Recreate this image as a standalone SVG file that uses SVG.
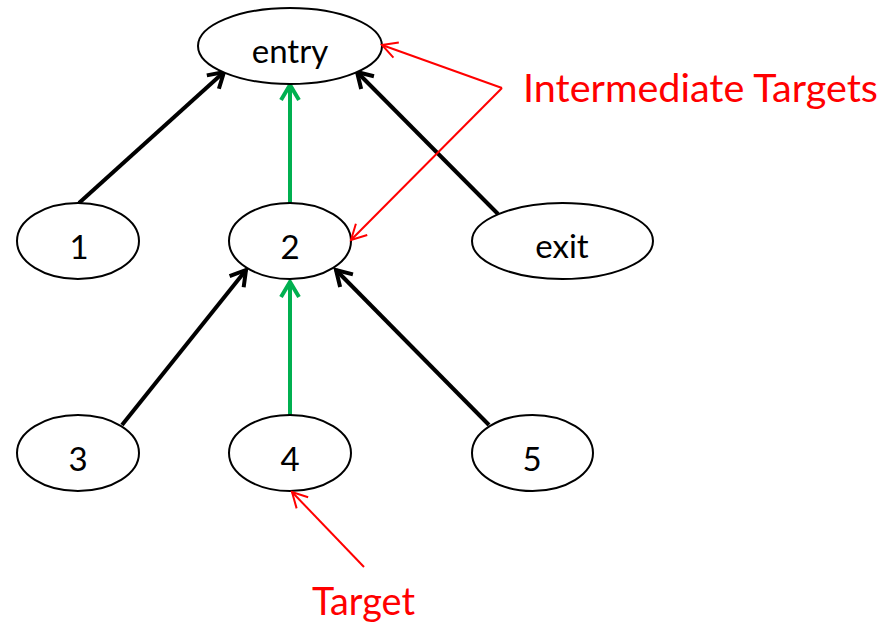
<svg xmlns="http://www.w3.org/2000/svg" width="886" height="625" viewBox="0 0 886 625">
<style>
.node ellipse{fill:#fff;stroke:#000;stroke-width:2}
.node text{font-family:Lato,"Liberation Sans",sans-serif;font-size:33px;fill:#000;text-anchor:middle}
.edge{fill:none;stroke-width:4}
.blk{stroke:#000;marker-end:url(#ab)}
.grn{stroke:#00B050;marker-end:url(#ag)}
.ann{fill:none;stroke:#FF0000;stroke-width:2;marker-end:url(#ar)}
.lbl{font-family:Lato,"Liberation Sans",sans-serif;font-size:38px;fill:#FF0000}
</style>
<defs>
<marker id="ab" markerUnits="userSpaceOnUse" markerWidth="20" markerHeight="20" refX="0" refY="0" orient="auto" overflow="visible">
<path d="M-15,-9 L0,0 L-15,9" fill="none" stroke="#000" stroke-width="4"/>
</marker>
<marker id="ag" markerUnits="userSpaceOnUse" markerWidth="20" markerHeight="20" refX="0" refY="0" orient="auto" overflow="visible">
<path d="M-15,-9 L0,0 L-15,9" fill="none" stroke="#00B050" stroke-width="4"/>
</marker>
<marker id="ar" markerUnits="userSpaceOnUse" markerWidth="20" markerHeight="20" refX="0" refY="0" orient="auto" overflow="visible">
<path d="M-15,-8 L0,0 L-15,8" fill="none" stroke="#FF0000" stroke-width="2"/>
</marker>
</defs>
<g id="connectors">
<line class="edge blk" x1="79" y1="203" x2="224" y2="72"/>
<line class="edge blk" x1="498" y1="214" x2="357" y2="72"/>
<line class="edge blk" x1="122" y1="425" x2="246" y2="270"/>
<line class="edge blk" x1="489" y1="425" x2="336" y2="270"/>
<line class="edge grn" x1="290" y1="203" x2="290" y2="85"/>
<line class="edge grn" x1="290" y1="415" x2="290" y2="282"/>
</g>
<g id="node-entry" class="node"><ellipse cx="290" cy="46" rx="92" ry="38"/><text x="290" y="63">entry</text></g>
<g id="node-1" class="node"><ellipse cx="78" cy="241" rx="61" ry="38"/><text x="79" y="259">1</text></g>
<g id="node-2" class="node"><ellipse cx="290" cy="241" rx="61" ry="38"/><text x="290" y="259">2</text></g>
<g id="node-exit" class="node"><ellipse cx="562.5" cy="241" rx="90.5" ry="38"/><text x="562" y="258">exit</text></g>
<g id="node-3" class="node"><ellipse cx="78" cy="453" rx="61" ry="38"/><text x="78" y="471">3</text></g>
<g id="node-4" class="node"><ellipse cx="290" cy="453" rx="61" ry="38"/><text x="290" y="471">4</text></g>
<g id="node-5" class="node"><ellipse cx="532.5" cy="453" rx="60.5" ry="38"/><text x="532" y="471">5</text></g>
<g id="annotations">
<line class="ann" x1="502" y1="88" x2="382" y2="45"/>
<line class="ann" x1="502" y1="88" x2="351" y2="240"/>
<line class="ann" x1="364" y1="567" x2="292" y2="492"/>
<text class="lbl" x="523" y="102" textLength="355" lengthAdjust="spacingAndGlyphs">Intermediate Targets</text>
<text class="lbl" x="312" y="615" textLength="103" lengthAdjust="spacingAndGlyphs">Target</text>
</g>
</svg>
